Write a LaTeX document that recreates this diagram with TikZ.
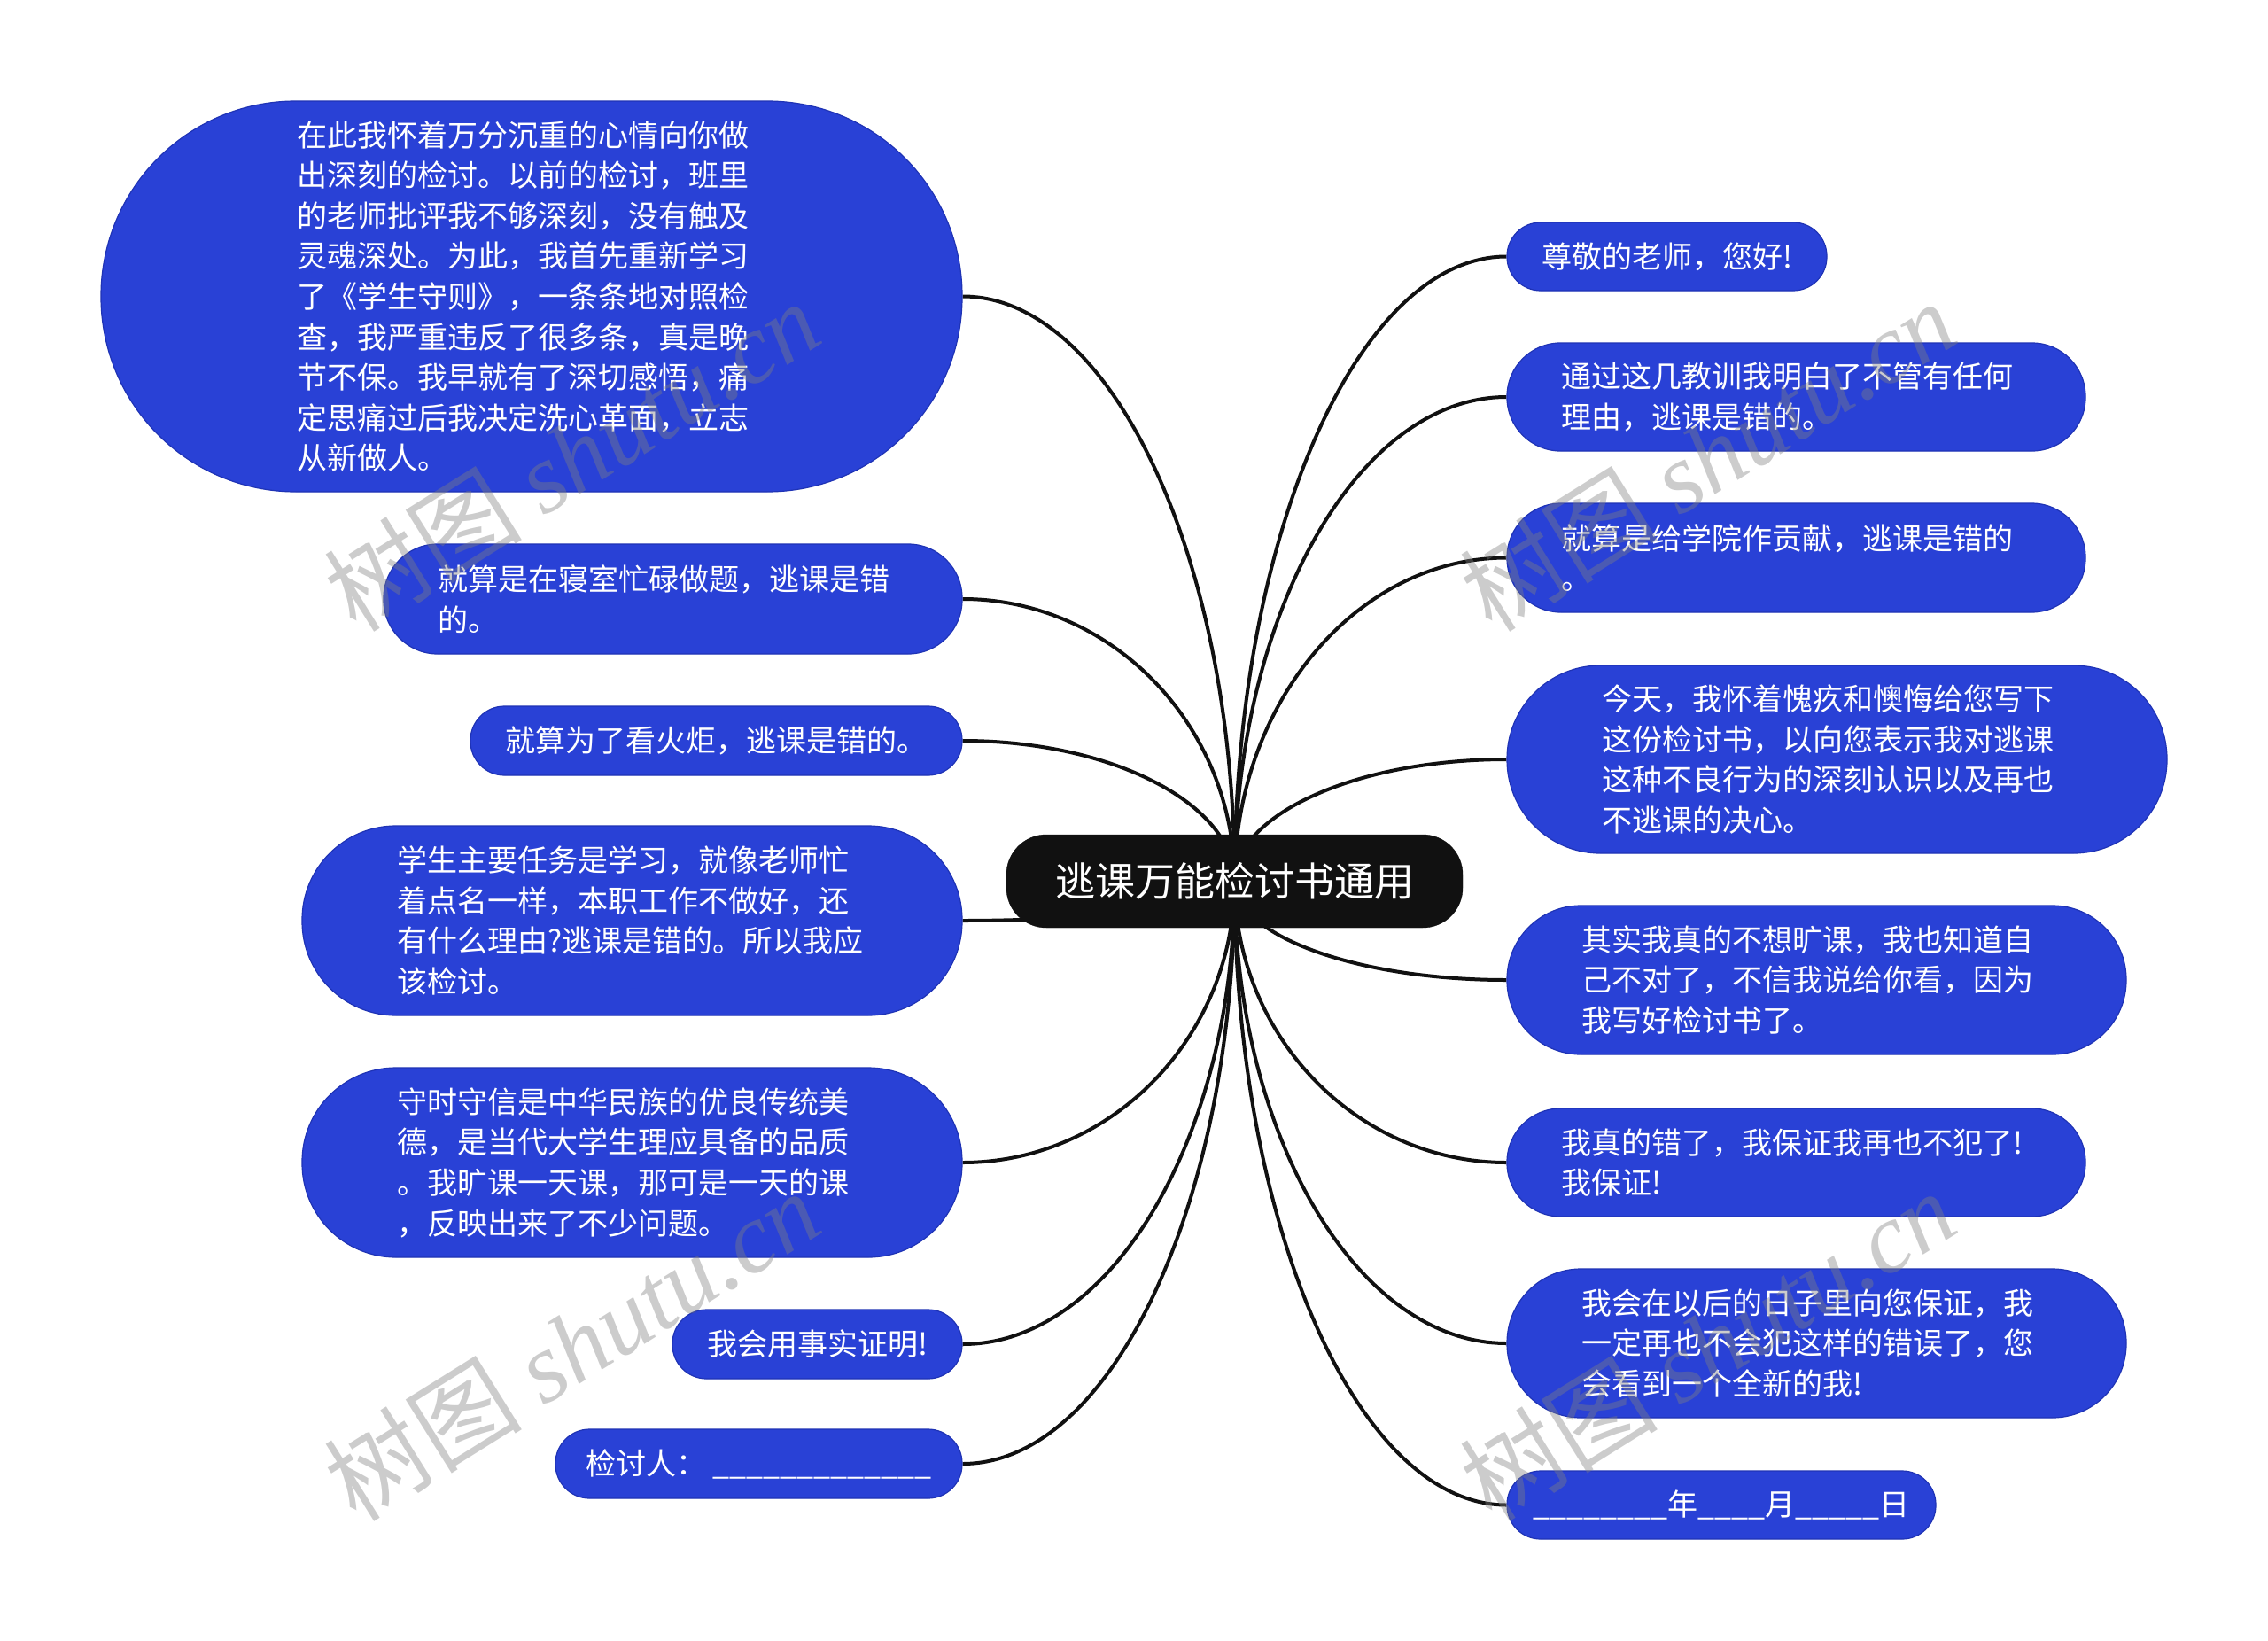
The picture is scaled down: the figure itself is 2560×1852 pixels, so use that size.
\documentclass[tikz,border=0pt]{standalone}
\usepackage{fontspec}
\setmainfont{Noto Sans CJK SC}
\newfontfamily\wmserif{Liberation Serif}
\usetikzlibrary{calc,backgrounds}
\definecolor{nodeblue}{HTML}{2941D6}
\definecolor{nodeedge}{HTML}{1F33B5}
\definecolor{rootblack}{HTML}{111111}
\definecolor{wmgray}{HTML}{808080}
\newcommand\leaffont{\fontsize{34pt}{45.6pt}\selectfont}
\newcommand\rootfont{\fontsize{45pt}{54pt}\selectfont}
\newcommand\wmfont{\fontsize{112pt}{120pt}\selectfont}
\newcommand\us[1]{\foreach \i in {1,...,#1}{\_}}
\newcommand\connL[1]{\draw[conn] (c.center) .. controls ($(c.center)!0.55!(c.center |- #1.east)$) and ($(#1.east)!0.55!(c.center |- #1.east)$) .. (#1.east);}
\newcommand\connR[1]{\draw[conn] (c.center) .. controls ($(c.center)!0.55!(c.center |- #1.west)$) and ($(#1.west)!0.55!(c.center |- #1.west)$) .. (#1.west);}
\begin{document}
\begin{tikzpicture}[x=1pt,y=-1pt,
  leaf/.style={fill=nodeblue, draw=nodeedge, line width=1.2pt, text=white, font=\leaffont, align=left, inner sep=0pt},
  multi/.style={text width=530pt},
  rootnode/.style={fill=rootblack, draw=rootblack, text=white, font=\rootfont, inner sep=0pt, minimum width=515pt, minimum height=105pt, rounded corners=45pt},
  conn/.style={draw=rootblack, line width=4pt},
  wm/.style={rotate=32, text=wmgray, text opacity=0.4, font=\wmfont, inner sep=0pt}]
\useasboundingbox (0,0) rectangle (2560,1852);
% root
\node[rootnode] (c) at (1393.5,994.5) {逃课万能检讨书通用};
% left children
\node[leaf, multi, minimum width=972pt, minimum height=441pt, rounded corners=220pt] (l1) at (600,334.5) {在此我怀着万分沉重的心情向你做\\出深刻的检讨。以前的检讨，班里\\的老师批评我不够深刻，没有触及\\灵魂深处。为此，我首先重新学习\\了《学生守则》，一条条地对照检\\查，我严重违反了很多条，真是晚\\节不保。我早就有了深切感悟，痛\\定思痛过后我决定洗心革面，立志\\从新做人。};
\node[leaf, multi, minimum width=653pt, minimum height=124pt, rounded corners=61pt] (l2) at (759.5,676) {就算是在寝室忙碌做题，逃课是错\\的。};
\node[leaf, minimum width=555pt, minimum height=78pt, rounded corners=38.5pt] (l3) at (808.5,836) {就算为了看火炬，逃课是错的。};
\node[leaf, multi, minimum width=745pt, minimum height=214pt, rounded corners=106pt] (l4) at (713.5,1039) {学生主要任务是学习，就像老师忙\\着点名一样，本职工作不做好，还\\有什么理由?逃课是错的。所以我应\\该检讨。};
\node[leaf, multi, minimum width=745pt, minimum height=214pt, rounded corners=106pt] (l5) at (713.5,1312) {守时守信是中华民族的优良传统美\\德，是当代大学生理应具备的品质\\。我旷课一天课，那可是一天的课\\，反映出来了不少问题。};
\node[leaf, minimum width=327pt, minimum height=78pt, rounded corners=38.5pt] (l6) at (922.5,1517) {我会用事实证明!};
\node[leaf, minimum width=459pt, minimum height=78pt, rounded corners=38.5pt] (l7) at (856.5,1652) {检讨人： \us{13}};
% right children
\node[leaf, minimum width=361pt, minimum height=77pt, rounded corners=38pt] (r1) at (1881.5,289.5) {尊敬的老师，您好!};
\node[leaf, multi, minimum width=653pt, minimum height=122pt, rounded corners=60.5pt] (r2) at (2027.5,448) {通过这几教训我明白了不管有任何\\理由，逃课是错的。};
\node[leaf, multi, minimum width=653pt, minimum height=123pt, rounded corners=61pt] (r3) at (2027.5,629.5) {就算是给学院作贡献，逃课是错的\\。};
\node[leaf, multi, minimum width=745pt, minimum height=212pt, rounded corners=105.5pt] (r4) at (2073.5,857) {今天，我怀着愧疚和懊悔给您写下\\这份检讨书，以向您表示我对逃课\\这种不良行为的深刻认识以及再也\\不逃课的决心。};
\node[leaf, multi, minimum width=699pt, minimum height=168pt, rounded corners=83.5pt] (r5) at (2050.5,1106) {其实我真的不想旷课，我也知道自\\己不对了，不信我说给你看，因为\\我写好检讨书了。};
\node[leaf, multi, minimum width=653pt, minimum height=122pt, rounded corners=60.5pt] (r6) at (2027.5,1312) {我真的错了，我保证我再也不犯了!\\我保证!};
\node[leaf, multi, minimum width=699pt, minimum height=168pt, rounded corners=83.5pt] (r7) at (2050.5,1516) {我会在以后的日子里向您保证，我\\一定再也不会犯这样的错误了，您\\会看到一个全新的我!};
\node[leaf, minimum width=484pt, minimum height=77pt, rounded corners=38pt] (r8) at (1943,1698.5) {\us{8}年\us{4}月\us{5}日};
% connectors behind
\begin{pgfonlayer}{background}
\fill[white] (0,0) rectangle (2560,1852);
\connL{l1}\connL{l2}\connL{l3}\connL{l4}\connL{l5}\connL{l6}\connL{l7}
\connR{r1}\connR{r2}\connR{r3}\connR{r4}\connR{r5}\connR{r6}\connR{r7}\connR{r8}
\end{pgfonlayer}
% watermarks
\node[wm] (wm1) at (645,514) {树图 {\wmserif\itshape shutu.cn}};
\node[wm] (wm2) at (1927,514) {树图 {\wmserif\itshape shutu.cn}};
\node[wm] (wm3) at (645,1518) {树图 {\wmserif\itshape shutu.cn}};
\node[wm] (wm4) at (1927,1518) {树图 {\wmserif\itshape shutu.cn}};
\end{tikzpicture}
\end{document}
